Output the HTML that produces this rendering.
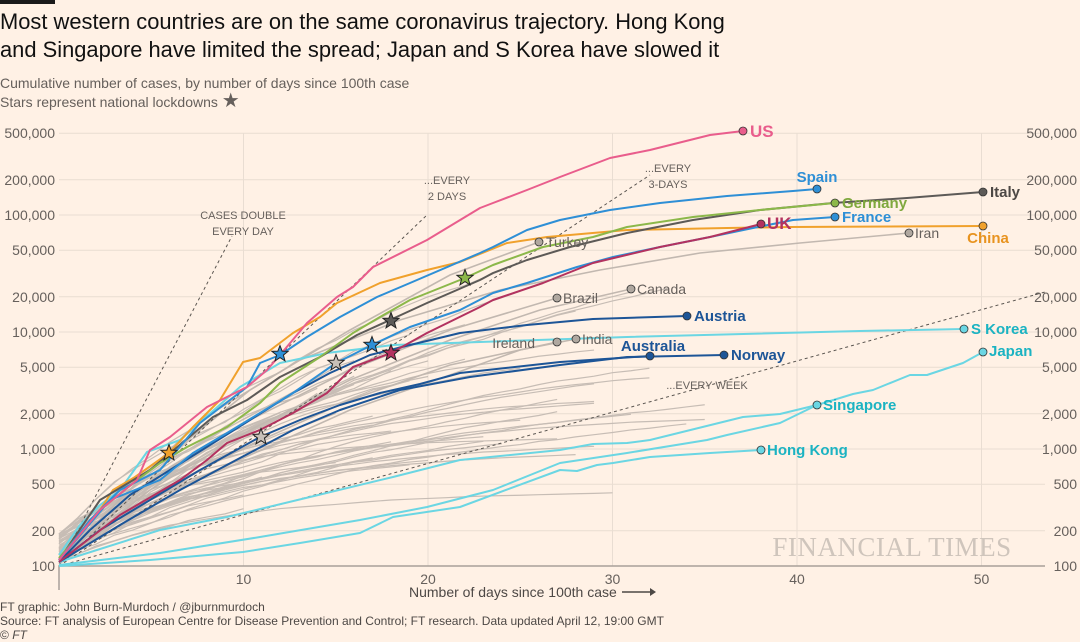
<!DOCTYPE html>
<html><head><meta charset="utf-8">
<style>
html,body{margin:0;padding:0;background:#fff1e5;}
body{width:1080px;height:641px;overflow:hidden;position:relative;font-family:"Liberation Sans",sans-serif;}
.t{position:absolute;left:0;white-space:nowrap;color:#1a1a1a}
</style></head><body>
<div style="position:absolute;left:0;top:0;width:55px;height:4px;background:#1a1a1a"></div>
<div class="t" style="top:8px;font-size:22px;line-height:28px;transform:scaleX(0.995);transform-origin:0 0;color:#111">Most western countries are on the same coronavirus trajectory. Hong Kong<br>and Singapore have limited the spread; Japan and S Korea have slowed it</div>
<div class="t" style="top:74px;font-size:14px;line-height:18px;color:#66605c">Cumulative number of cases, by number of days since 100th case<br>Stars represent national lockdowns <span style="font-size:20px;color:#66605c">★</span></div>
<svg id="c" width="1080" height="641" style="position:absolute;left:0;top:0" xmlns="http://www.w3.org/2000/svg" font-family="Liberation Sans, sans-serif"></svg>
<div class="t" style="top:600px;font-size:12px;line-height:14px;color:#4d4845">FT graphic: John Burn-Murdoch / @jburnmurdoch<br>Source: FT analysis of European Centre for Disease Prevention and Control; FT research. Data updated April 12, 19:00 GMT<br>© <i>FT</i></div>
<script>
const s=document.getElementById('c');let h='';
const X=d=>59+18.45*d, Y=v=>566-117*Math.log10(v/100);
const yt=[[100,'100'],[200,'200'],[500,'500'],[1000,'1,000'],[2000,'2,000'],[5000,'5,000'],[10000,'10,000'],[20000,'20,000'],[50000,'50,000'],[100000,'100,000'],[200000,'200,000'],[500000,'500,000']];
for(const [v,l] of yt){const y=Y(v);
 if(v>100)h+=`<line x1="59" x2="1045" y1="${y}" y2="${y}" stroke="#e9ddd2" stroke-width="1"/>`;
 h+=`<text x="55" y="${y+5}" text-anchor="end" font-size="14" fill="#66605c">${l}</text><text x="1077" y="${y+5}" text-anchor="end" font-size="14" fill="#66605c">${l}</text>`;}
for(let d=10;d<=50;d+=10){h+=`<line x1="${X(d)}" x2="${X(d)}" y1="133" y2="566" stroke="#e9ddd2"/><text x="${X(d)}" y="584" text-anchor="middle" font-size="14" fill="#66605c">${d}</text>`;}
h+=`<line x1="59" x2="1045" y1="566" y2="566" stroke="#a8a09a" stroke-width="1.5"/><line x1="59" x2="59" y1="566" y2="590" stroke="#a8a09a" stroke-width="1.5"/>`;
let seed=11;const R=()=>{seed=(seed*16807)%2147483647;return seed/2147483647;};
for(let i=0;i<52;i++){let v=110+R()*80,r0=0.14+R()*0.2,k=7+R()*22,len=10+Math.floor(R()*26);let p=`${X(0)},${Y(v)}`;
 for(let d=1;d<=len;d++){v*=Math.exp(Math.max(0.01,r0*Math.exp(-d/k))*(0.7+R()*0.6));p+=` ${X(d)},${Y(v)}`;}
 h+=`<polyline points="${p}" fill="none" stroke="#c7bdb5" stroke-width="1.2"/>`;}
const gl=(p,c='#c2b8b0')=>h+=`<polyline points="${p}" fill="none" stroke="${c}" stroke-width="1.6"/>`;
gl('59,560 200,420 300,360 400,320 500,290 600,270 700,253 800,243 909,233');
gl('59,560 150,470 250,390 350,330 450,275 539,242');
gl('59,562 150,480 250,420 350,370 450,330 557,298');
gl('59,562 150,490 250,430 350,380 450,340 540,310 631,289');
gl('59,563 150,495 250,445 350,400 450,365 557,342');
gl('59,564 150,500 250,455 350,410 450,375 520,350 576,339');
const dl=(x2,y2)=>h+=`<line x1="59" y1="566" x2="${x2}" y2="${y2}" stroke="#5a5550" stroke-width="1" stroke-dasharray="3,3"/>`;
dl(232,236);dl(427,215);dl(650,175);dl(1045,292);
const lt=(x,y,a,b)=>h+=`<text x="${x}" y="${y}" text-anchor="middle" font-size="11" fill="#66605c">${a}</text><text x="${x}" y="${y+16}" text-anchor="middle" font-size="11" fill="#66605c">${b}</text>`;
lt(243,219,'CASES DOUBLE','EVERY DAY');lt(447,184,'...EVERY','2 DAYS');lt(668,172,'...EVERY','3-DAYS');
h+=`<text x="707" y="389" text-anchor="middle" font-size="11" fill="#66605c">...EVERY WEEK</text>`;
const L=(p,c,w=2)=>h+=`<polyline points="${p}" fill="none" stroke="${c}" stroke-width="${w}" stroke-linejoin="round"/>`;
const PINK='#e95d8c',BL='#2e8fd6',DG='#5d5a57',GR='#8cb84a',RED='#b3325f',OR='#f0a12c',DB='#1d5597',CY='#6bd6e3';
L('59,566 150,560 243,552 300,543 360,533 393,517 460,507 560,470 577,471 597,465 613,463 650,457 710,453 761,450',CY);
L('59,565 160,553 260,537 360,520 427,507 493,490 560,463 627,453 707,440 727,435 780,423 817,405',CY);
L('59,562 160,530 227,517 310,497 393,477 460,460 560,450 593,444 627,443 650,440 743,417 780,414 817,405 853,394 873,390 910,375 927,375 963,363 983,352',CY);
L('59,555 80,525 100,505 120,490 147,452 180,440 240,387 280,363 327,353 393,345 480,342 627,337 860,331 964,329',CY);
L('59,562 100,530 150,500 200,470 260,437 300,420 340,405 380,393 420,384 460,373 560,362 650,356',DB);
L('59,562 120,525 180,490 240,458 293,430 340,410 400,390 470,377 560,365 627,357 724,355',DB);
L('59,562 90,530 130,495 170,470 210,445 250,420 293,393 330,373 370,355 410,345 460,333 527,325 593,319 687,316',DB);
L('59,558 80,535 100,510 113,490 135,477 169,453 193,427 220,400 243,362 260,358 293,333 320,317 337,303 380,283 427,270 460,262 507,243 547,237 627,230 727,228 790,227 983,226',OR);
L('59,560 100,500 150,470 213,417 247,400 280,377 320,357 357,335 390,320 427,303 480,280 493,273 527,260 570,247 627,233 693,220 760,210 833,203 907,198 983,192',DG);
L('59,558 100,510 137,480 160,463 187,447 227,427 260,403 280,383 320,357 353,333 380,317 410,300 465,278 493,265 543,247 593,237 627,227 693,217 760,210 835,203',GR);
L('59,560 110,500 160,480 193,453 227,433 260,413 293,393 336,363 372,345 410,327 460,310 493,293 527,283 577,267 613,257 660,247 710,237 753,228 793,220 835,217',BL);
L('59,562 120,515 180,480 207,460 227,443 260,430 293,413 327,393 353,367 391,353 427,333 480,307 493,300 543,283 593,263 660,247 710,237 761,224',RED);
L('59,560 90,520 120,490 160,470 200,423 247,387 260,363 280,355 307,337 340,317 377,297 410,283 480,253 493,247 527,230 560,220 610,210 660,203 727,196 793,191 817,189',BL);
L('59,560 100,510 137,480 150,450 170,437 207,407 227,397 247,387 267,370 280,355 307,323 337,297 353,287 373,267 427,240 480,208 493,203 527,190 560,177 610,158 650,150 670,145 710,135 743,131',PINK);
const D=(x,y,c,lab,lx,ly,fc,bold=true,a='start',fs=15)=>{h+=`<circle cx="${x}" cy="${y}" r="4" fill="${c}" stroke="#333" stroke-width="0.8"/>`;if(lab)h+=`<text x="${lx}" y="${ly}" text-anchor="${a}" font-size="${fs}" font-weight="${bold?'bold':'normal'}" fill="${fc}">${lab}</text>`;};
D(743,131,PINK,'US',750,137,'#e95d8c',true,'start',17);
D(817,189,BL,'Spain',817,182,'#2e8fd6',true,'middle');
D(835,203,GR,'Germany',842,208,'#7fa83e');
D(835,217,BL,'France',842,222,'#2e8fd6');
D(761,224,RED,'UK',767,229,'#b3325f',true,'start',17);
D(983,192,DG,'Italy',990,197,'#4d4845');
D(983,226,OR,'China',988,243,'#e8931f',true,'middle');
D(909,233,'#b0a8a0','Iran',915,238,'#66605c',false,'start',14);
D(539,242,'#b0a8a0','Turkey',546,247,'#66605c',false,'start',14);
D(557,298,'#b0a8a0','Brazil',563,303,'#66605c',false,'start',14);
D(631,289,'#b0a8a0','Canada',637,294,'#66605c',false,'start',14);
D(557,342,'#b0a8a0','Ireland',535,348,'#66605c',false,'end',14);
D(576,339,'#b0a8a0','India',582,344,'#66605c',false,'start',14);
D(687,316,DB,'Austria',694,321,'#1d5597');
D(650,356,DB,'Australia',653,351,'#1d5597',true,'middle');
D(724,355,DB,'Norway',731,360,'#1d5597');
D(964,329,CY,'S Korea',971,334,'#1bb3c2');
D(983,352,CY,'Japan',989,356,'#1bb3c2');
D(817,405,CY,'Singapore',823,410,'#1bb3c2');
D(761,450,CY,'Hong Kong',767,455,'#1bb3c2');
const st=(cx,cy,c)=>{let p='';for(let i=0;i<10;i++){const r=i%2?3.6:8.5,a=-Math.PI/2+i*Math.PI/5;p+=`${cx+r*Math.cos(a)},${cy+r*Math.sin(a)} `;}h+=`<polygon points="${p}" fill="${c}" stroke="#222" stroke-width="1"/>`;};
st(169,453,OR);st(280,354,BL);st(261,437,'#c8c0b8');st(336,363,'#c8c0b8');st(372,345,BL);st(391,321,DG);st(391,353,RED);st(465,278,GR);
h+=`<text x="892" y="556" text-anchor="middle" font-family="Liberation Serif, serif" font-size="27" fill="#cfc5bc" letter-spacing="0.5">FINANCIAL TIMES</text>`;
h+=`<text x="409" y="597" font-size="14" fill="#4d4845">Number of days since 100th case</text><line x1="622" x2="650" y1="592" y2="592" stroke="#4d4845" stroke-width="1.5"/><polygon points="650,588 656,592 650,596" fill="#4d4845"/>`;
s.innerHTML=h;
</script>
</body></html>
